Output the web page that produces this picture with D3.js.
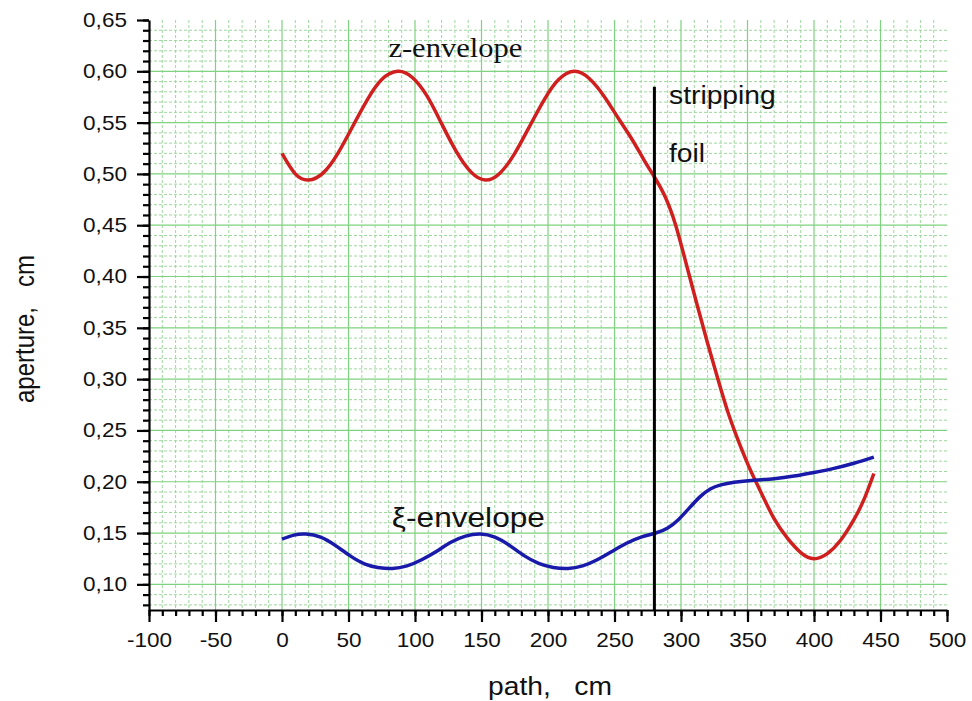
<!DOCTYPE html>
<html>
<head>
<meta charset="utf-8">
<script src="https://cdn.jsdelivr.net/npm/d3@7"></script>
<style>
  body { margin: 0; background: #fff; }
  text { font-family: "Liberation Sans", Arial, sans-serif; }
</style>
</head>
<body>
<div id="chart"></div>
<script>
// z-envelope (red)
var zPath = [0, 10, 20, 31, 42, 53, 64, 75, 87, 98, 109, 120, 131, 142, 153, 164, 175, 186, 197, 208, 220, 231, 242, 253, 263, 272, 280, 288, 296, 304, 312, 320, 328, 336, 344, 352, 360, 370, 380, 390, 400, 410, 420, 430, 438, 445];
var zAperture = [0.520, 0.500, 0.494, 0.501, 0.520, 0.546, 0.572, 0.592, 0.600, 0.594, 0.576, 0.549, 0.522, 0.502, 0.494, 0.501, 0.520, 0.546, 0.572, 0.592, 0.600, 0.593, 0.576, 0.554, 0.534, 0.514, 0.497, 0.478, 0.450, 0.412, 0.373, 0.335, 0.299, 0.265, 0.237, 0.212, 0.190, 0.164, 0.145, 0.131, 0.125, 0.130, 0.143, 0.163, 0.184, 0.208];

// xi-envelope (blue)
var xiPath = [0, 9, 18, 29, 40, 51, 62, 72, 83, 94, 105, 116, 127, 138, 149, 160, 171, 182, 193, 204, 215, 226, 237, 248, 259, 270, 281, 290, 298, 306, 314, 322, 330, 340, 355, 370, 385, 400, 415, 430, 445];
var xiAperture = [0.144, 0.148, 0.149, 0.146, 0.138, 0.128, 0.120, 0.1165, 0.1155, 0.118, 0.124, 0.132, 0.141, 0.147, 0.149, 0.146, 0.138, 0.128, 0.1205, 0.1165, 0.1155, 0.118, 0.124, 0.132, 0.140, 0.146, 0.150, 0.155, 0.163, 0.174, 0.185, 0.193, 0.197, 0.1995, 0.2015, 0.203, 0.2055, 0.209, 0.213, 0.218, 0.224];

var foilPath = 280, foilTop = 0.585;

var xTicks = d3.range(-100, 501, 50);
var xMinor = d3.range(-100, 501, 10);
var yTicks = d3.range(0.10, 0.651, 0.05);
var yMinor = d3.range(0.08, 0.651, 0.01);

var W = 972, H = 701;
var sx = 1.13; // picture is a bit wider than tall

var svg = d3.select("#chart").append("svg")
  .attr("width", W).attr("height", H)
  .style("background", "#fff");

var x = d3.scaleLinear().domain([-100, 500]).range([149, 947]);
var y = d3.scaleLinear().domain([0.075, 0.65]).range([610, 20]);

// grid
var grid = svg.append("g");
grid.selectAll(".vminor").data(xMinor.filter(function(d){ return d % 50 != 0; }))
  .enter().append("line")
  .attr("x1", x).attr("x2", x).attr("y1", y(0.65)).attr("y2", y(0.075))
  .style("stroke", "#9ed89e").style("stroke-width", 1).style("stroke-dasharray", "3,2");
grid.selectAll(".hminor").data(yMinor.filter(function(d){ return Math.round(d*100) % 5 != 0; }))
  .enter().append("line")
  .attr("x1", x(-100)).attr("x2", x(500)).attr("y1", y).attr("y2", y)
  .style("stroke", "#9ed89e").style("stroke-width", 1).style("stroke-dasharray", "3,2");
grid.selectAll(".vmajor").data(xTicks.filter(function(d){ return d > -100 && d < 500; }))
  .enter().append("line")
  .attr("x1", x).attr("x2", x).attr("y1", y(0.65)).attr("y2", y(0.075))
  .style("stroke", "#7fd27f").style("stroke-width", 1.2);
grid.selectAll(".hmajor").data(yTicks.filter(function(d){ return d < 0.649; }))
  .enter().append("line")
  .attr("x1", x(-100)).attr("x2", x(500)).attr("y1", y).attr("y2", y)
  .style("stroke", "#7fd27f").style("stroke-width", 1.2);

// axes
var xAxisMinor = d3.axisBottom(x).tickValues(xMinor).tickSize(6).tickSizeOuter(0).tickFormat("");
var xAxis = d3.axisBottom(x).tickValues(xTicks).tickSize(12).tickPadding(11).tickSizeOuter(0)
  .tickFormat(function(d){ return String(d); });
var yAxisMinor = d3.axisLeft(y).tickValues(yMinor).tickSize(6).tickSizeOuter(0).tickFormat("");
var yAxis = d3.axisLeft(y).tickValues(yTicks).tickSize(12).tickSizeOuter(0)
  .tickFormat(function(d){ return d.toFixed(2).replace(".", ","); });

function styleAxis(g) {
  g.selectAll("path, line").style("stroke", "#000").style("stroke-width", 2.2);
  g.selectAll("text").style("font-size", "20px").style("fill", "#111")
    .attr("font-family", null);
}

var gx = svg.append("g").attr("transform", "translate(0," + y(0.075) + ")");
gx.call(xAxisMinor).call(styleAxis);
var gx2 = svg.append("g").attr("transform", "translate(0," + y(0.075) + ")");
gx2.call(xAxis).call(styleAxis);
gx2.select(".domain").remove();
gx2.selectAll("text").attr("transform", "scale(" + sx + ",1)");

var gy = svg.append("g").attr("transform", "translate(" + x(-100) + ",0)");
gy.call(yAxisMinor).call(styleAxis);
var gy2 = svg.append("g").attr("transform", "translate(" + x(-100) + ",0)");
gy2.call(yAxis).call(styleAxis);
gy2.select(".domain").remove();
gy2.selectAll("text").attr("x", -22 / sx).attr("transform", "scale(" + sx + ",1)");

// curves
var line = d3.line().curve(d3.curveNatural);

svg.append("path")
  .attr("d", line(zPath.map(function(d, i){ return [x(d), y(zAperture[i])]; })))
  .style("fill", "none").style("stroke", "#d01f1f").style("stroke-width", 3.5);

svg.append("path")
  .attr("d", line(xiPath.map(function(d, i){ return [x(d), y(xiAperture[i])]; })))
  .style("fill", "none").style("stroke", "#1a1aaa").style("stroke-width", 3.5);

// stripping foil
svg.append("line")
  .attr("x1", x(foilPath)).attr("x2", x(foilPath))
  .attr("y1", y(foilTop)).attr("y2", y(0.075))
  .style("stroke", "#000").style("stroke-width", 3);

function label(txt, px, py, size, family) {
  svg.append("text")
    .attr("transform", "translate(" + px + "," + py + ") scale(" + sx + ",1)")
    .style("font-size", size + "px")
    .style("font-family", family || null)
    .style("fill", "#111")
    .style("white-space", "pre")
    .text(txt);
}

label("z-envelope", x(80), y(0.614), 27, "'Liberation Serif', 'Times New Roman', serif");
label("\u03BE-envelope", x(82.6), y(0.156), 28);
label("stripping", x(291), y(0.5686), 25);
label("foil", x(291), y(0.5116), 25);

// axis titles
svg.append("text")
  .attr("transform", "translate(550,695) scale(" + sx + ",1)")
  .attr("text-anchor", "middle")
  .style("font-size", "25px").style("fill", "#111").style("white-space", "pre")
  .text("path,   cm");

svg.append("text")
  .attr("transform", "translate(34,329) rotate(-90) scale(1," + sx + ")")
  .attr("text-anchor", "middle")
  .style("font-size", "24px").style("fill", "#111").style("white-space", "pre")
  .text("aperture,   cm");
</script>
</body>
</html>
